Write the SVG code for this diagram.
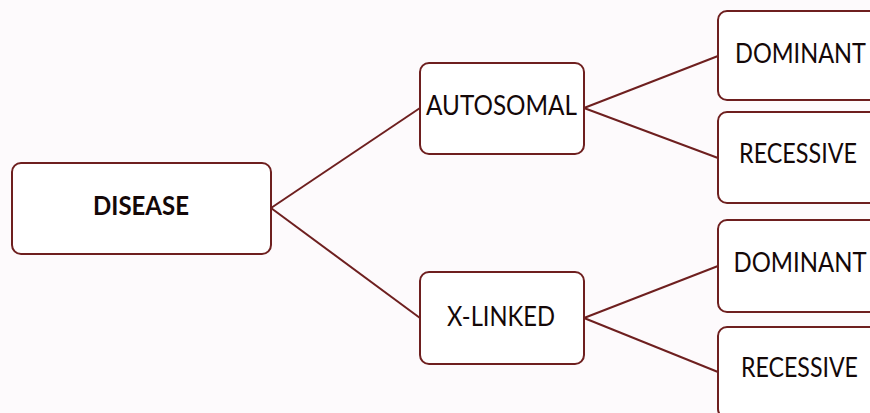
<svg xmlns="http://www.w3.org/2000/svg" width="870" height="413" viewBox="0 0 870 413">
<style>
.box{fill:#ffffff;stroke:#6e1f1f;stroke-width:2}
.lbl{font-family:Lato,"Open Sans",sans-serif;font-size:27px;fill:#140808;text-anchor:middle}
.b{font-weight:bold}
.con{stroke:#6e1f1f;stroke-width:2;fill:none}
</style>
<rect width="870" height="413" fill="#fdfafc"/>
<g id="connectors">
<line class="con" x1="271" y1="208" x2="420" y2="108"/>
<line class="con" x1="271" y1="208" x2="420" y2="318"/>
<line class="con" x1="584" y1="108" x2="718" y2="56"/>
<line class="con" x1="584" y1="108" x2="718" y2="158"/>
<line class="con" x1="584" y1="318" x2="718" y2="266"/>
<line class="con" x1="584" y1="318" x2="718" y2="372"/>
</g>
<g id="disease"><rect class="box" x="12" y="163" width="259" height="91" rx="9"/><text class="lbl b" x="141" y="215" textLength="96" lengthAdjust="spacingAndGlyphs">DISEASE</text></g>
<g id="autosomal"><rect class="box" x="420" y="63" width="164" height="91" rx="9"/><text class="lbl" x="501.5" y="115" textLength="151" lengthAdjust="spacingAndGlyphs">AUTOSOMAL</text></g>
<g id="xlinked"><rect class="box" x="420" y="272" width="164" height="92" rx="9"/><text class="lbl" x="501" y="326" textLength="108" lengthAdjust="spacingAndGlyphs">X-LINKED</text></g>
<g id="auto-dominant"><rect class="box" x="718" y="11" width="164" height="89" rx="9"/><text class="lbl" x="800.5" y="63" textLength="131" lengthAdjust="spacingAndGlyphs">DOMINANT</text></g>
<g id="auto-recessive"><rect class="box" x="718" y="112" width="164" height="91" rx="9"/><text class="lbl" x="798" y="163" textLength="118" lengthAdjust="spacingAndGlyphs">RECESSIVE</text></g>
<g id="x-dominant"><rect class="box" x="718" y="220" width="164" height="92" rx="9"/><text class="lbl" x="800" y="272" textLength="133" lengthAdjust="spacingAndGlyphs">DOMINANT</text></g>
<g id="x-recessive"><rect class="box" x="718" y="327" width="164" height="91" rx="9"/><text class="lbl" x="799.5" y="377" textLength="117" lengthAdjust="spacingAndGlyphs">RECESSIVE</text></g>
</svg>
